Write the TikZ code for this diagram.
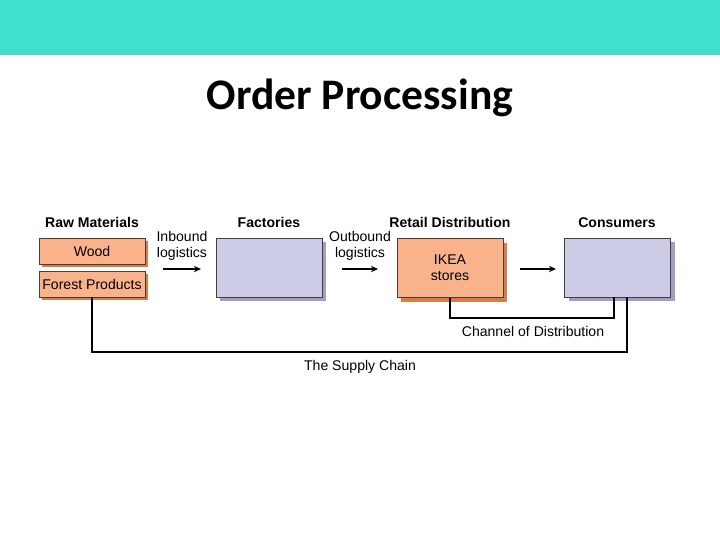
\documentclass[tikz,border=0pt]{standalone}
\usepackage{fontspec}
\setmainfont{Liberation Sans}
\newfontfamily\titlefont{Carlito}
\usetikzlibrary{shadows,arrows.meta}
\definecolor{topbar}{RGB}{64,224,208}
\definecolor{rawfill}{RGB}{250,178,138}
\definecolor{rawshade}{RGB}{224,122,62}
\definecolor{lavfill}{RGB}{204,204,230}
\definecolor{lavshade}{RGB}{160,160,196}
\tikzset{
  box/.style={draw=black!75, line width=0.6pt, minimum width=2.65cm, inner sep=0pt,
    align=center, font=\fontsize{10}{11.3}\selectfont},
  rawbox/.style={box, fill=rawfill, minimum height=0.65cm,
    general shadow={fill=rawshade, shadow xshift=2pt, shadow yshift=-2pt}},
  storebox/.style={box, fill=rawfill, minimum height=1.475cm,
    general shadow={fill=rawshade, shadow xshift=3pt, shadow yshift=-3pt}},
  lavbox/.style={box, fill=lavfill, minimum height=1.475cm,
    general shadow={fill=lavshade, shadow xshift=3pt, shadow yshift=-3pt}},
  header/.style={anchor=base, font=\fontsize{10}{12}\selectfont\bfseries},
  note/.style={align=center, font=\fontsize{10}{11.3}\selectfont},
  flow/.style={line width=1pt, -{Stealth[length=5pt,width=4.5pt]}},
  chain/.style={line width=1.4pt}
}
\begin{document}
\begin{tikzpicture}[x=0.025cm,y=-0.025cm]
\useasboundingbox (0,0) rectangle (720,540);
\fill[topbar] (0,0) rectangle (720,55);
\node[anchor=base, font=\titlefont\fontsize{31}{36}\selectfont\bfseries] (title) at (360,109) {Order Processing};

% headers
\node[header] (hraw) at (92,227) {Raw Materials};
\node[header] (hfac) at (269,227) {Factories};
\node[header] (hret) at (450,227) {Retail Distribution};
\node[header] (hcon) at (617,227) {Consumers};

% boxes
\node[rawbox] (wood) at (92,251.5) {Wood};
\node[rawbox] (forest) at (92,284) {Forest Products};
\node[lavbox] (factories) at (269,267.5) {};
\node[storebox] (ikea) at (450,268) {IKEA\\stores};
\node[lavbox] (consumers) at (617.5,267.5) {};

% the chain lines
\coordinate (sc) at (360,352);
\coordinate (cd) at (533,318);
\draw[chain] (forest.south) |- (sc) -| ([xshift=6.7pt]consumers.south);
\draw[chain] (ikea.south) |- (cd) -| ([xshift=-2.5pt]consumers.south);
\node[note, anchor=north] (sclabel) at (360,355) {The Supply Chain};
\node[note, anchor=north] (cdlabel) at (533,321) {Channel of Distribution};

% logistics
\node[note] (inbound) at (182,245.5) {Inbound\\logistics};
\node[note] (outbound) at (360,245.5) {Outbound\\logistics};
\draw[flow] (163,269) -- (201,269);
\draw[flow] (342,269) -- (378,269);
\draw[flow] (520,269) -- (556,269);
\end{tikzpicture}
\end{document}
